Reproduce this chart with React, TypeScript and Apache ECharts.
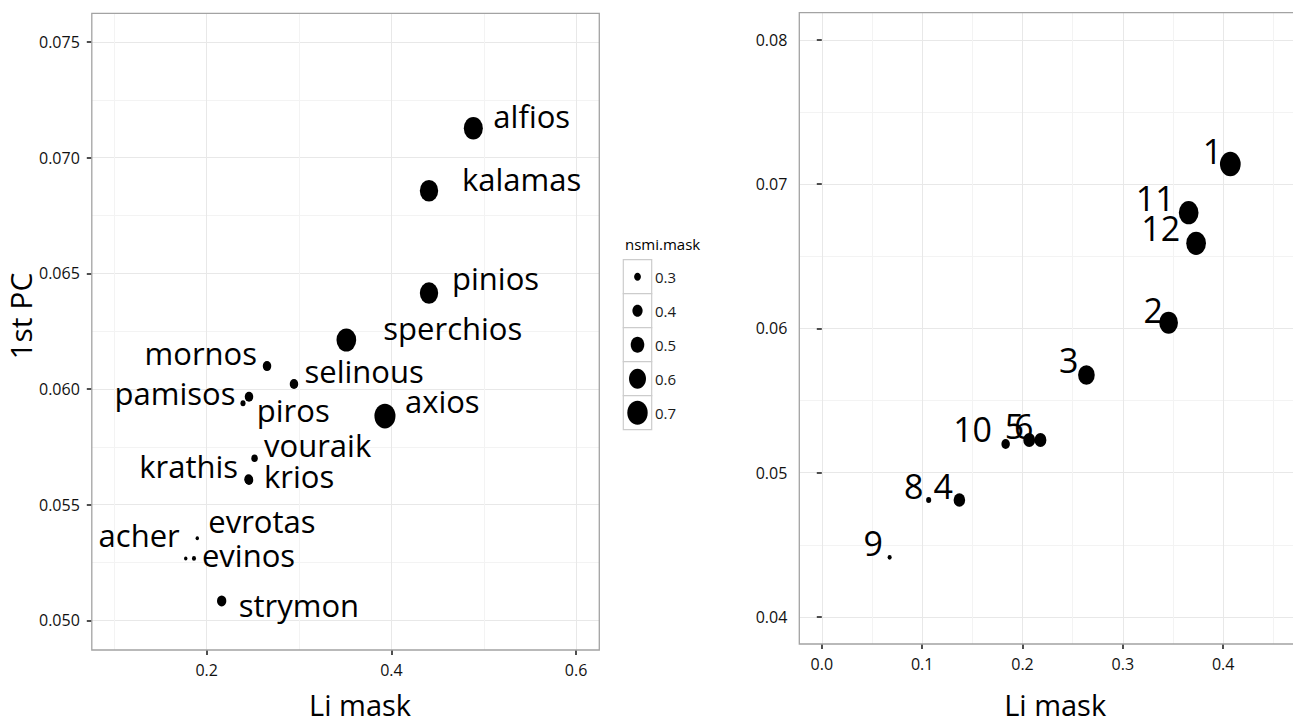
import React, { useEffect, useRef } from "react";
import * as echarts from "echarts";

const FONT = "'Open Sans', 'Liberation Sans', sans-serif";

// ---- Left panel: river names, Li mask (x), 1st PC (y), nsmi.mask (size)
const leftNames = ["alfios", "kalamas", "pinios", "sperchios", "mornos", "selinous", "pamisos", "piros", "axios", "vouraik", "krathis", "krios", "evrotas", "acher", "evinos", "strymon"];
const leftLiMask = [0.4887, 0.4407, 0.4407, 0.3512, 0.2653, 0.2945, 0.2458, 0.2393, 0.393, 0.2518, 0.2453, 0.2458, 0.1898, 0.1773, 0.1862, 0.2162];
const leftPC1 = [0.07127, 0.06857, 0.06415, 0.06212, 0.06099, 0.06022, 0.05967, 0.05938, 0.05883, 0.05701, 0.0561, 0.05607, 0.05355, 0.05268, 0.05268, 0.05084];
const leftNsmi = [0.66, 0.64, 0.64, 0.68, 0.35, 0.35, 0.35, 0.25, 0.72, 0.29, 0.35, 0.35, 0.2, 0.2, 0.22, 0.375];

// ---- Right panel: numbered points
const rightIds = ["1", "11", "12", "2", "3", "10", "5", "6", "8", "4", "9"];
const rightLiMask = [0.4071, 0.3656, 0.373, 0.3456, 0.2637, 0.1832, 0.2067, 0.2179, 0.1065, 0.1371, 0.0676];
const rightPC1 = [0.07139, 0.06802, 0.0659, 0.0604, 0.05677, 0.05199, 0.05227, 0.05227, 0.04811, 0.04811, 0.04414];
const rightNsmi = [0.71, 0.68, 0.68, 0.65, 0.59, 0.35, 0.45, 0.45, 0.25, 0.44, 0.22];

// ---- Tick labels and legend values
const leftXTicks = [0.2, 0.4, 0.6];
const leftYTicks = [0.05, 0.055, 0.06, 0.065, 0.07, 0.075];
const rightXTicks = [0, 0.1, 0.2, 0.3, 0.4];
const rightYTicks = [0.04, 0.05, 0.06, 0.07, 0.08];
const legendValues = [0.3, 0.4, 0.5, 0.6, 0.7];

// ---- label placement (layout only): [side, dx, dy]
const leftLabelPlace: [string, number, number][] = [
  ["r", 20, -12], ["r", 33, -12], ["r", 23, -15], ["r", 37, -12],
  ["l", -10, -13], ["r", 10.5, -13.3], ["l", -13.5, -3.7], ["r", 13.8, 6.4],
  ["r", 20, -14.7], ["r", 9.5, -13.6], ["l", -10.5, -13.7], ["r", 15, -3.7],
  ["r", 11, -17], ["l", -6, -23.6], ["r", 8, -3], ["r", 17, 3.7],
];
const rightLabelPlace: [number, number][] = [
  [-8, -13.2], [-14, -14.2], [-16, -14.8], [-5.6, -12.9], [-8, -14.9],
  [-13.6, -15.5], [-5, -13.9], [-7, -13.9], [-5.2, -13.9], [-6.4, -13.9], [-6.6, -13.8],
];

const ELLIPSE = "path://M1,0A1,1,0,1,1,-1,0A1,1,0,1,1,1,0Z";
const ASPECT = 0.85;
const dotH = (v: number) => 40 * v - 4;

const L = { left: 91.8, top: 13.3, width: 507.5, height: 636.7 };
const R = { left: 799.3, top: 12.7, width: 497.7, height: 631.3 };

function axis(gridIndex: number, min: number, max: number, interval: number, ticks: number[], decimals: number, extra: any) {
  return {
    type: "value",
    gridIndex,
    min,
    max,
    minInterval: interval,
    maxInterval: interval,
    axisLine: { show: false },
    axisTick: { show: true, length: 5, customValues: ticks, lineStyle: { color: "#222", width: 1.6 } },
    axisLabel: {
      customValues: ticks,
      formatter: (v: number) => v.toFixed(decimals),
      fontFamily: FONT,
      fontSize: 16,
      color: "#111",
      margin: 12,
    },
    splitLine: { show: true, lineStyle: { color: "#e8e8e8", width: 1 } },
    minorTick: { show: false, splitNumber: 2 },
    minorSplitLine: { show: true, lineStyle: { color: "#f3f3f3", width: 1 } },
    ...extra,
  };
}

export default function App() {
  const ref = useRef<HTMLDivElement>(null);
  useEffect(() => {
    document.body.style.margin = "0";
    document.body.style.overflow = "hidden";
    if (!ref.current) return;
    const chart = echarts.init(ref.current, null, { renderer: "svg" });

    const leftData = leftNames.map((n, i) => {
      const h = dotH(leftNsmi[i]);
      const [side, dx, dy] = leftLabelPlace[i];
      return {
        name: n,
        value: [leftLiMask[i], leftPC1[i], leftNsmi[i]],
        symbolSize: [h * ASPECT, h],
        label: { align: side === "r" ? "left" : "right", offset: [dx, dy] },
      };
    });
    const rightData = rightIds.map((n, i) => {
      const h = dotH(rightNsmi[i]);
      const [dx, dy] = rightLabelPlace[i];
      return {
        name: n,
        value: [rightLiMask[i], rightPC1[i], rightNsmi[i]],
        symbolSize: [h * ASPECT, h],
        label: { align: "right", offset: [dx, dy] },
      };
    });

    const legendEls: any[] = [
      {
        type: "text",
        x: 625,
        y: 244,
        style: { text: "nsmi.mask", fontFamily: FONT, fontSize: 15, fill: "#000", align: "left", verticalAlign: "middle", textAlign: "left", textVerticalAlign: "middle" },
      },
    ];
    legendValues.forEach((v, i) => {
      const cy = 276.7 + 34 * i;
      const h = dotH(v);
      legendEls.push({ type: "rect", shape: { x: 623.3, y: cy - 17, width: 28.4, height: 34 }, style: { fill: "#fff", stroke: "#cccccc", lineWidth: 1.2 } });
      legendEls.push({ type: "ellipse", shape: { cx: 637.5, cy, rx: (h * ASPECT) / 2, ry: h / 2 }, style: { fill: "#000" } });
      legendEls.push({
        type: "text",
        x: 655,
        y: cy,
        style: { text: v.toFixed(1), fontFamily: FONT, fontSize: 15, fill: "#1a1a1a", align: "left", verticalAlign: "middle", textAlign: "left", textVerticalAlign: "middle" },
      });
    });

    const borders = [L, R].map((g) => ({
      type: "rect",
      z: 100,
      shape: { x: g.left, y: g.top, width: g.width, height: g.height },
      style: { fill: "none", stroke: "#a3a3a3", lineWidth: 1.3 },
      silent: true,
    }));

    const labelBase = { show: true, position: "inside", formatter: "{b}", fontFamily: FONT, color: "#000" };

    chart.setOption({
      animation: false,
      backgroundColor: "#fff",
      grid: [
        { ...L, containLabel: false, outerBoundsMode: "none" },
        { ...R, containLabel: false, outerBoundsMode: "none" },
      ],
      xAxis: [
        axis(0, 0.07558, 0.6251, 0.2, leftXTicks, 1, {
          name: "Li mask",
          nameLocation: "middle",
          nameGap: 39,
          nameTextStyle: { fontFamily: FONT, fontSize: 29, lineHeight: 30, color: "#000", padding: [0, 0, 0, 29] },
        }),
        axis(1, -0.02242, 0.47354, 0.1, rightXTicks, 1, {
          name: "Li mask",
          nameLocation: "middle",
          nameGap: 45,
          nameTextStyle: { fontFamily: FONT, fontSize: 29, lineHeight: 30, color: "#000", padding: [0, 0, 0, 14] },
        }),
      ],
      yAxis: [
        axis(0, 0.04872, 0.07624, 0.005, leftYTicks, 3, {
          name: "1st PC",
          nameLocation: "middle",
          nameGap: 56,
          nameTextStyle: { fontFamily: FONT, fontSize: 30, color: "#000", padding: [0, 0, 0, 31] },
        }),
        axis(1, 0.03813, 0.08188, 0.01, rightYTicks, 2, {}),
      ],
      graphic: [...legendEls, ...borders],
      series: [
        {
          type: "scatter",
          xAxisIndex: 0,
          yAxisIndex: 0,
          symbol: ELLIPSE,
          silent: true,
          itemStyle: { color: "#000", opacity: 1 },
          label: { ...labelBase, fontSize: 31 },
          data: leftData,
        },
        {
          type: "scatter",
          xAxisIndex: 1,
          yAxisIndex: 1,
          symbol: ELLIPSE,
          silent: true,
          itemStyle: { color: "#000", opacity: 1 },
          label: { ...labelBase, fontSize: 34 },
          data: rightData,
        },
      ],
    });
    return () => chart.dispose();
  }, []);
  return <div ref={ref} style={{ width: 1293, height: 720 }} />;
}
